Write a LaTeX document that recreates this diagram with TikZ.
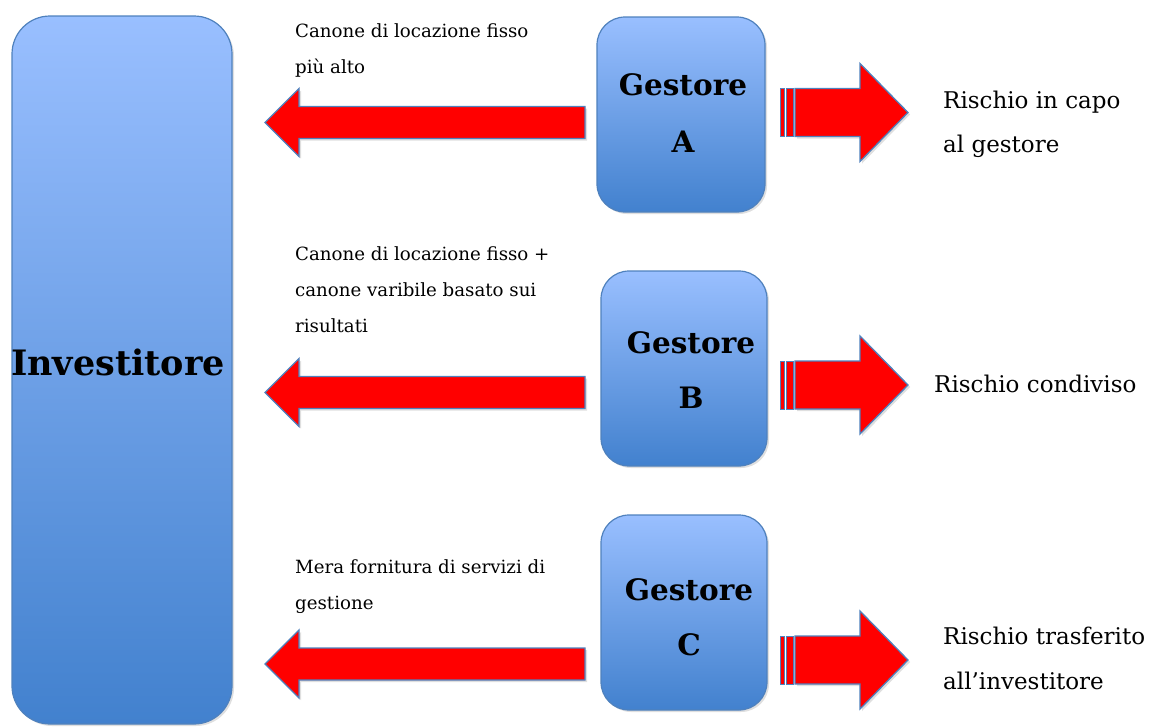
\documentclass[tikz,border=0pt]{standalone}
\usepackage{fontspec}
\setmainfont{DejaVu Serif}
\usetikzlibrary{shadows}
\definecolor{boxtop}{RGB}{153,191,255}
\definecolor{boxbot}{RGB}{66,129,206}
\definecolor{edgeblue}{RGB}{79,129,189}
\definecolor{arrowred}{RGB}{255,0,0}
\tikzset{
  boxshade/.style={draw=edgeblue, line width=1.2pt, top color=boxtop, bottom color=boxbot,
    drop shadow={shadow xshift=2pt, shadow yshift=-2pt, opacity=0.25}},
  blockarrow/.style={draw=edgeblue, line width=1.3pt, fill=arrowred, line join=miter,
    drop shadow={shadow xshift=2pt, shadow yshift=-2pt, opacity=0.25}},
  stripe/.style={draw=edgeblue, line width=1pt, fill=arrowred},
  note/.style={anchor=base west, inner sep=0pt, font=\fontsize{18.2}{22}\selectfont},
  risk/.style={anchor=base west, inner sep=0pt, font=\fontsize{23}{28}\selectfont},
  title/.style={inner sep=0pt, font=\bfseries\fontsize{29.5}{34}\selectfont},
}
% left-pointing block arrow: tip x, centre y
\newcommand\leftblock[2]{%
  \draw[blockarrow] (#1,#2) -- (#1+34,#2-34) -- (#1+34,#2-16) -- (585,#2-16)
    -- (585,#2+16) -- (#1+34,#2+16) -- (#1+34,#2+34) -- cycle;}
% right-pointing block arrow with two stripes at its tail: centre y
\newcommand\rightblock[1]{%
  \draw[stripe] (780,#1-24) rectangle (784,#1+24);
  \draw[stripe] (786,#1-24) rectangle (793,#1+24);
  \draw[blockarrow] (795,#1-24) -- (860,#1-24) -- (860,#1-49) -- (908,#1)
    -- (860,#1+49) -- (860,#1+24) -- (795,#1+24) -- cycle;}
\begin{document}
\begin{tikzpicture}[x=1pt,y=-1pt]
\useasboundingbox (0,0) rectangle (1149,726);

% investor column
\draw[boxshade, rounded corners=38pt] (12,16) rectangle (232,724);
\node[title, font=\bfseries\fontsize{35}{40}\selectfont] (inv) at (118,362) {Investitore};

% managers
\draw[boxshade, rounded corners=28pt] (597,17) rectangle (765,212);
\node[title] (ga) at (683,85) {Gestore};
\node[title] (la) at (683,142) {A};

\draw[boxshade, rounded corners=28pt] (601,271) rectangle (767,466);
\node[title] (gb) at (691,343) {Gestore};
\node[title] (lb) at (691,398) {B};

\draw[boxshade, rounded corners=28pt] (601,515) rectangle (767,710);
\node[title] (gc) at (689,590) {Gestore};
\node[title] (lc) at (689,645) {C};

% flows towards the investor
\leftblock{265}{122.5}
\leftblock{265}{392.5}
\leftblock{265}{664}

% risk arrows
\rightblock{112.5}
\rightblock{385}
\rightblock{660}

% fee descriptions
\node[note] (ta1) at (295,37) {Canone di locazione fisso};
\node[note] (ta2) at (295,73) {più alto};
\node[note] (tb1) at (295,260) {Canone di locazione fisso +};
\node[note] (tb2) at (295,296) {canone varibile basato sui};
\node[note] (tb3) at (295,332) {risultati};
\node[note] (tc1) at (295,573) {Mera fornitura di servizi di};
\node[note] (tc2) at (295,609) {gestione};

% risk allocation
\node[risk] (ra1) at (943,108) {Rischio in capo};
\node[risk] (ra2) at (943,152) {al gestore};
\node[risk] (rb1) at (934,392) {Rischio condiviso};
\node[risk] (rc1) at (943,644) {Rischio trasferito};
\node[risk] (rc2) at (943,689) {all’investitore};
\end{tikzpicture}
\end{document}
